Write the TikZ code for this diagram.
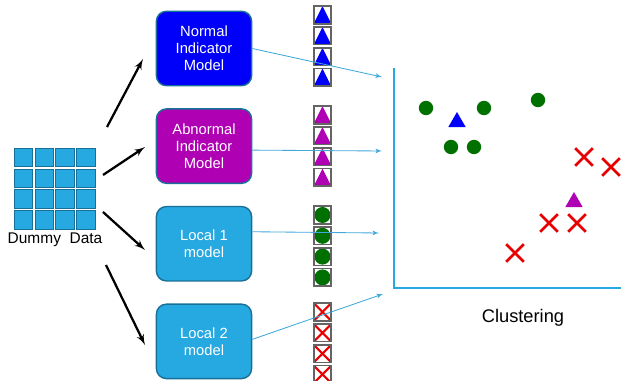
\documentclass[tikz,border=0pt]{standalone}
\usepackage{fontspec}
\setmainfont{Liberation Sans}
\usetikzlibrary{shapes,arrows,positioning}

\definecolor{cellblue}{RGB}{38,168,224}
\definecolor{celledge}{RGB}{24,112,152}
\definecolor{boxblue}{RGB}{0,0,250}
\definecolor{boxmagenta}{RGB}{176,0,180}
\definecolor{dotgreen}{RGB}{0,112,0}
\definecolor{xred}{RGB}{232,0,0}
\definecolor{linkblue}{RGB}{64,168,218}
\definecolor{iconedge}{RGB}{100,100,100}

\tikzstyle{cell} = [rectangle, draw=celledge, line width=0.8pt, fill=cellblue,
    minimum size=0.46cm, inner sep=0pt]
\tikzstyle{model} = [rectangle, draw=celledge, line width=1pt, rounded corners=0.25cm,
    minimum width=2.38cm, minimum height=1.86cm, text=white, align=center,
    font=\fontsize{10.5}{12.2}\selectfont]
\tikzstyle{icon} = [rectangle, draw=iconedge, line width=1.2pt, fill=white,
    minimum size=0.44cm, inner sep=0pt]
\tikzstyle{bluetri} = [icon, path picture={\fill[boxblue] (path picture bounding box.south west)
    -- (path picture bounding box.south east) -- (path picture bounding box.north) -- cycle;}]
\tikzstyle{pinktri} = [icon, path picture={\fill[boxmagenta] (path picture bounding box.south west)
    -- (path picture bounding box.south east) -- (path picture bounding box.north) -- cycle;}]
\tikzstyle{greendot} = [icon, path picture={\fill[dotgreen] (path picture bounding box.center) circle (0.2cm);}]
\tikzstyle{redcross} = [icon, path picture={\draw[xred, line width=1.5pt]
    ([shift={(0.03,0.03)}]path picture bounding box.south west) -- ([shift={(-0.03,-0.03)}]path picture bounding box.north east)
    ([shift={(0.03,-0.03)}]path picture bounding box.north west) -- ([shift={(-0.03,0.03)}]path picture bounding box.south east);}]
\tikzstyle{dot} = [circle, fill=dotgreen, minimum size=0.36cm, inner sep=0pt]
\tikzstyle{xmark} = [cross out, draw=xred, line width=1.8pt, minimum size=0.38cm, inner sep=0pt]
\tikzstyle{centroid} = [regular polygon, regular polygon sides=3, minimum size=0.5cm, inner sep=0pt]
\tikzstyle{feed} = [draw, -latex', line width=1.6pt]
\tikzstyle{link} = [draw=linkblue, -latex', line width=0.6pt]
\tikzstyle{axis} = [draw=cellblue, line width=2pt]

\begin{document}
\begin{tikzpicture}[x=0.025cm, y=-0.025cm, node distance=0.52cm]
	\useasboundingbox (0,0) rectangle (621,381);

	% dummy data grid
	\node [cell] (c11) at (23.5,157.5) {};
	\node [cell, right of=c11] (c12) {};
	\node [cell, right of=c12] (c13) {};
	\node [cell, right of=c13] (c14) {};
	\node [cell, below of=c11] (c21) {};
	\node [cell, right of=c21] (c22) {};
	\node [cell, right of=c22] (c23) {};
	\node [cell, right of=c23] (c24) {};
	\node [cell, below of=c21] (c31) {};
	\node [cell, right of=c31] (c32) {};
	\node [cell, right of=c32] (c33) {};
	\node [cell, right of=c33] (c34) {};
	\node [cell, below of=c31] (c41) {};
	\node [cell, right of=c41] (c42) {};
	\node [cell, right of=c42] (c43) {};
	\node [cell, right of=c43] (c44) {};
	\node [font=\fontsize{11}{13}\selectfont] (dummy) at (55,240) {Dummy\ \ Data};

	% models
	\node [model, fill=boxblue] (normal) at (204,48.5) {Normal\\Indicator\\Model};
	\node [model, fill=boxmagenta, below of=normal, node distance=2.44cm] (abnormal) {Abnormal\\Indicator\\Model};
	\node [model, fill=cellblue, below of=abnormal, node distance=2.44cm] (local1) {Local 1\\model};
	\node [model, fill=cellblue, below of=local1, node distance=2.44cm] (local2) {Local 2\\model};

	\coordinate (s1) at (107,127);
	\coordinate (e1) at (143,59);
	\coordinate (s2) at (103,175);
	\coordinate (e2) at (145,147);
	\coordinate (s3) at (103,212);
	\coordinate (e3) at (145,250);
	\coordinate (s4) at (106,265);
	\coordinate (e4) at (145,345);
	\path [feed] (s1) -- (e1);
	\path [feed] (s2) -- (e2);
	\path [feed] (s3) -- (e3);
	\path [feed] (s4) -- (e4);

	% labels of each model
	\node [bluetri] (n1) at (322.5,15) {};
	\node [bluetri, below of=n1] (n2) {};
	\node [bluetri, below of=n2] (n3) {};
	\node [bluetri, below of=n3] (n4) {};
	\node [pinktri] (a1) at (322.5,115) {};
	\node [pinktri, below of=a1] (a2) {};
	\node [pinktri, below of=a2] (a3) {};
	\node [pinktri, below of=a3] (a4) {};
	\node [greendot] (g1) at (322.5,215) {};
	\node [greendot, below of=g1] (g2) {};
	\node [greendot, below of=g2] (g3) {};
	\node [greendot, below of=g3] (g4) {};
	\node [redcross] (r1) at (322.5,312) {};
	\node [redcross, below of=r1] (r2) {};
	\node [redcross, below of=r2] (r3) {};
	\node [redcross, below of=r3] (r4) {};

	% into the clustering
	\coordinate (t1) at (382,77);
	\coordinate (t2) at (382,151);
	\coordinate (t3) at (379,233);
	\coordinate (t4) at (383,294);
	\path [link] (normal.east) -- (t1);
	\path [link] ([yshift=-0.1cm]abnormal.east) -- (t2);
	\path [link] ([yshift=0.3cm]local1.east) -- (t3);
	\path [link] ([yshift=0.05cm]local2.east) -- (t4);

	\coordinate (ytop) at (394,68);
	\coordinate (origin) at (394,288);
	\coordinate (xend) at (621,288);
	\path [axis] (ytop) -- (origin) -- (xend);

	\node [dot] (p1) at (426,108) {};
	\node [dot] (p2) at (484,108) {};
	\node [dot] (p3) at (538,100) {};
	\node [dot] (p4) at (451,147) {};
	\node [dot] (p5) at (474,147) {};
	\node [centroid, fill=boxblue] (m1) at (457,122) {};
	\node [centroid, fill=boxmagenta] (m2) at (574,202) {};
	\node [xmark] (q1) at (584,157) {};
	\node [xmark] (q2) at (611,167) {};
	\node [xmark] (q3) at (549,223) {};
	\node [xmark] (q4) at (577,223) {};
	\node [xmark] (q5) at (515,253) {};

	\node [font=\fontsize{13}{15}\selectfont] (clustering) at (523,318) {Clustering};
\end{tikzpicture}
\end{document}
